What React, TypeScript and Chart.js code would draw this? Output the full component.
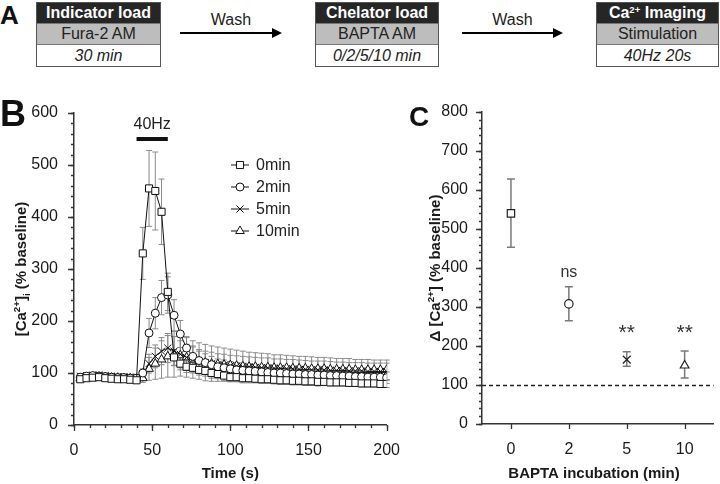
import React, { useEffect, useRef } from 'react';
import { Chart, registerables } from 'chart.js';

Chart.register(...registerables);

// ---------- DATA ----------
const timePoints = [4, 8, 12, 16, 20, 24, 28, 32, 36, 40, 44, 48, 52, 56, 60, 64, 68, 72, 76, 80, 84, 88, 92, 96, 100, 104, 108, 112, 116, 120, 124, 128, 132, 136, 140, 144, 148, 152, 156, 160, 164, 168, 172, 176, 180, 184, 188, 192, 196, 200];

const seriesNames = ['0min', '2min', '5min', '10min'];
const seriesStyles = ['rect', 'circle', 'crossRot', 'triangle'];

const vals0 = [88, 90, 91, 92, 90, 89, 88, 88, 87, 86, 330, 455, 450, 410, 256, 130, 118, 112, 110, 106, 104, 100, 98, 95, 92, 92, 90, 90, 89, 88, 88, 87, 86, 86, 85, 85, 84, 84, 83, 83, 82, 82, 82, 81, 81, 80, 80, 80, 79, 79];
const vals2 = [92, 94, 95, 94, 93, 92, 91, 91, 90, 90, 100, 177, 215, 245, 250, 211, 175, 148, 132, 124, 120, 116, 112, 110, 108, 106, 105, 104, 103, 102, 101, 100, 100, 99, 98, 98, 97, 97, 96, 96, 95, 95, 94, 94, 93, 93, 92, 92, 92, 91];
const vals5 = [94, 95, 96, 96, 95, 94, 93, 93, 92, 92, 96, 118, 132, 142, 148, 142, 136, 130, 126, 122, 120, 118, 116, 115, 114, 113, 112, 112, 111, 110, 110, 109, 109, 108, 108, 107, 107, 106, 106, 106, 105, 105, 105, 104, 104, 104, 103, 103, 103, 103];
const vals10 = [90, 92, 93, 93, 92, 91, 91, 90, 90, 89, 90, 108, 118, 126, 132, 136, 134, 130, 126, 123, 120, 118, 117, 116, 115, 114, 113, 112, 112, 111, 111, 110, 110, 110, 109, 109, 109, 108, 108, 108, 107, 107, 107, 107, 106, 106, 106, 106, 106, 106];

const err0 = [4, 4, 4, 4, 4, 4, 4, 4, 4, 4, 50, 73, 75, 63, 36, 15, 12, 11, 10, 10, 10, 10, 9, 9, 9, 9, 9, 9, 8, 8, 8, 8, 8, 8, 8, 8, 8, 8, 8, 7, 7, 7, 7, 7, 7, 7, 7, 7, 7, 7];
const err2 = [4, 4, 4, 4, 4, 4, 4, 4, 4, 4, 8, 28, 30, 33, 35, 30, 26, 22, 20, 18, 17, 16, 15, 15, 14, 14, 14, 13, 13, 13, 13, 12, 12, 12, 12, 12, 12, 12, 11, 11, 11, 11, 11, 11, 11, 11, 11, 11, 11, 11];
const err5 = [5, 5, 5, 5, 5, 5, 5, 5, 5, 5, 8, 18, 22, 26, 28, 28, 26, 25, 24, 23, 22, 22, 21, 21, 20, 20, 20, 19, 19, 19, 19, 18, 18, 18, 18, 18, 17, 17, 17, 17, 17, 16, 16, 16, 16, 16, 16, 16, 16, 16];
const err10 = [5, 5, 5, 5, 5, 5, 5, 5, 5, 5, 8, 22, 30, 36, 40, 44, 40, 38, 36, 35, 35, 34, 33, 32, 31, 30, 29, 28, 27, 27, 26, 25, 25, 24, 24, 23, 23, 23, 22, 22, 22, 21, 21, 21, 20, 20, 20, 19, 19, 19];

const stimStart = 40;
const stimEnd = 60;
const stimLevel = 550;
const stimLabel = '40Hz';

const bapCategories = ['0', '2', '5', '10'];
const bapMeans = [540, 308, 165, 150];
const bapUpper = [628, 352, 185, 187];
const bapLower = [453, 265, 148, 118];
const sigLabels = ['', 'ns', '**', '**'];
const sigLevels = [0, 377, 218, 218];
const baselineLevel = 100;

// ---------- HELPERS ----------
const FONT = '"Liberation Sans", Arial, Helvetica, sans-serif';
const seriesVals = [vals0, vals2, vals5, vals10];
const seriesErr = [err0, err2, err5, err10];
const markerRadiusB = [5, 4, 5, 5];
const markerRadiusC = [5.2, 4.2, 5.5, 5];

type Seg = { t: string; k?: 'sup' | 'sub' };

function drawRich(ctx: CanvasRenderingContext2D, segs: Seg[], cx: number, cy: number, size: number, rotate: boolean) {
  ctx.save();
  ctx.translate(cx, cy);
  if (rotate) ctx.rotate(-Math.PI / 2);
  const f = (s: number) => `bold ${s}px ${FONT}`;
  let total = 0;
  const widths = segs.map((sg) => {
    ctx.font = f(sg.k ? size * 0.65 : size);
    const w = ctx.measureText(sg.t).width;
    total += w;
    return w;
  });
  let x = -total / 2;
  ctx.textAlign = 'left';
  ctx.textBaseline = 'alphabetic';
  ctx.fillStyle = '#1a1a1a';
  segs.forEach((sg, i) => {
    ctx.font = f(sg.k ? size * 0.65 : size);
    const dy = sg.k === 'sup' ? -size * 0.42 : sg.k === 'sub' ? size * 0.22 : 0;
    ctx.fillText(sg.t, x, size * 0.35 + dy);
    x += widths[i];
  });
  ctx.restore();
}

function drawMarker(ctx: CanvasRenderingContext2D, style: string, x: number, y: number, r: number) {
  ctx.beginPath();
  if (style === 'rect') {
    const s = r * Math.SQRT1_2;
    ctx.rect(x - s, y - s, 2 * s, 2 * s);
  } else if (style === 'circle') {
    ctx.arc(x, y, r, 0, Math.PI * 2);
  } else if (style === 'triangle') {
    for (let k = 0; k < 3; k++) {
      const a = (k * 2 * Math.PI) / 3;
      const px = x + Math.sin(a) * r;
      const py = y - Math.cos(a) * r;
      if (k === 0) ctx.moveTo(px, py);
      else ctx.lineTo(px, py);
    }
    ctx.closePath();
  } else {
    const s = r * Math.SQRT1_2;
    ctx.moveTo(x - s, y - s);
    ctx.lineTo(x + s, y + s);
    ctx.moveTo(x - s, y + s);
    ctx.lineTo(x + s, y - s);
  }
  if (style !== 'crossRot') {
    ctx.fillStyle = '#fff';
    ctx.fill();
  }
  ctx.stroke();
}

function drawTicks(ctx: CanvasRenderingContext2D, scale: any, values: number[], len: number, horizontal: boolean) {
  ctx.beginPath();
  values.forEach((v) => {
    const p = Math.round(scale.getPixelForValue(v)) + 0.5;
    if (horizontal) {
      ctx.moveTo(p, scale.top);
      ctx.lineTo(p, scale.top + len);
    } else {
      ctx.moveTo(scale.right, p);
      ctx.lineTo(scale.right - len, p);
    }
  });
  ctx.stroke();
}

function range(a: number, b: number, step: number) {
  const out: number[] = [];
  for (let v = a; v <= b + 1e-9; v += step) out.push(v);
  return out;
}

// ---------- PLUGINS ----------
const panelBPlugin = {
  id: 'panelB',
  beforeDatasetsDraw(chart: any) {
    const { ctx, scales } = chart;
    const x = scales.x;
    const y = scales.y;
    ctx.save();
    ctx.strokeStyle = '#8a8a8a';
    ctx.lineWidth = 1;
    for (let s = seriesVals.length - 1; s >= 0; s--) {
      const v = seriesVals[s];
      const e = seriesErr[s];
      ctx.beginPath();
      v.forEach((val, i) => {
        const px = x.getPixelForValue(timePoints[i]);
        const hi = y.getPixelForValue(val + e[i]);
        const lo = y.getPixelForValue(val - e[i]);
        ctx.moveTo(px, hi);
        ctx.lineTo(px, lo);
        ctx.moveTo(px - 3, hi);
        ctx.lineTo(px + 3, hi);
        ctx.moveTo(px - 3, lo);
        ctx.lineTo(px + 3, lo);
      });
      ctx.stroke();
    }
    ctx.restore();
  },
  afterDraw(chart: any) {
    const { ctx, scales, chartArea } = chart;
    const x = scales.x;
    const y = scales.y;
    ctx.save();
    ctx.strokeStyle = '#333';
    ctx.lineWidth = 1.3;
    drawTicks(ctx, x, range(0, 200, 50), 6, true);
    drawTicks(ctx, x, range(0, 200, 10), 3, true);
    drawTicks(ctx, y, range(0, 600, 100), 6, false);
    drawTicks(ctx, y, range(0, 600, 20), 3, false);

    // stimulation bar
    const sy = y.getPixelForValue(stimLevel);
    ctx.fillStyle = '#111';
    ctx.fillRect(x.getPixelForValue(stimStart), sy - 2, x.getPixelForValue(stimEnd) - x.getPixelForValue(stimStart), 4);
    ctx.font = `16px ${FONT}`;
    ctx.textAlign = 'center';
    ctx.textBaseline = 'middle';
    ctx.fillStyle = '#222';
    ctx.fillText(stimLabel, x.getPixelForValue((stimStart + stimEnd) / 2), sy - 14);

    // legend
    seriesNames.forEach((name, i) => {
      const ly = 75 + i * 22;
      ctx.strokeStyle = '#111';
      ctx.lineWidth = 1;
      ctx.beginPath();
      ctx.moveTo(231, ly);
      ctx.lineTo(249, ly);
      ctx.stroke();
      drawMarker(ctx, seriesStyles[i], 240, ly, markerRadiusB[i]);
      ctx.fillStyle = '#222';
      ctx.font = `16px ${FONT}`;
      ctx.textAlign = 'left';
      ctx.textBaseline = 'middle';
      ctx.fillText(name, 256, ly + 1);
    });

    // axis titles
    drawRich(ctx, [{ t: '[Ca' }, { t: '2+', k: 'sup' }, { t: ']' }, { t: 'i', k: 'sub' }, { t: ' (% baseline)' }], 21, (chartArea.top + chartArea.bottom) / 2, 15, true);
    drawRich(ctx, [{ t: 'Time (s)' }], (chartArea.left + chartArea.right) / 2, 383, 15, false);
    ctx.restore();
  },
};

const panelCPlugin = {
  id: 'panelC',
  beforeDatasetsDraw(chart: any) {
    const { ctx, scales, chartArea } = chart;
    const x = scales.x;
    const y = scales.y;
    ctx.save();
    // dashed baseline
    const by = Math.round(y.getPixelForValue(baselineLevel)) + 0.5;
    ctx.strokeStyle = '#222';
    ctx.lineWidth = 1.3;
    ctx.setLineDash([4, 3]);
    ctx.beginPath();
    ctx.moveTo(chartArea.left, by);
    ctx.lineTo(chartArea.right, by);
    ctx.stroke();
    ctx.setLineDash([]);
    // error bars
    ctx.strokeStyle = '#7a7a7a';
    ctx.lineWidth = 1.5;
    ctx.beginPath();
    bapMeans.forEach((_, i) => {
      const px = x.getPixelForValue(i);
      const hi = y.getPixelForValue(bapUpper[i]);
      const lo = y.getPixelForValue(bapLower[i]);
      ctx.moveTo(px, hi);
      ctx.lineTo(px, lo);
      ctx.moveTo(px - 4, hi);
      ctx.lineTo(px + 4, hi);
      ctx.moveTo(px - 4, lo);
      ctx.lineTo(px + 4, lo);
    });
    ctx.stroke();
    ctx.restore();
  },
  afterDraw(chart: any) {
    const { ctx, scales, chartArea } = chart;
    const x = scales.x;
    const y = scales.y;
    ctx.save();
    ctx.strokeStyle = '#333';
    ctx.lineWidth = 1.3;
    drawTicks(ctx, y, range(0, 800, 100), 6, false);
    drawTicks(ctx, y, range(0, 800, 20), 3, false);
    drawTicks(ctx, x, bapCategories.map((_, i) => i), 5, true);

    ctx.fillStyle = '#333';
    ctx.textAlign = 'center';
    ctx.textBaseline = 'alphabetic';
    sigLabels.forEach((lab, i) => {
      if (!lab) return;
      ctx.font = lab === 'ns' ? `16px ${FONT}` : `21px ${FONT}`;
      ctx.fillText(lab, x.getPixelForValue(i), y.getPixelForValue(sigLevels[i]));
    });

    drawRich(ctx, [{ t: '\u0394 [Ca' }, { t: '2+', k: 'sup' }, { t: '] (% baseline)' }], 35, (chartArea.top + chartArea.bottom) / 2, 15, true);
    drawRich(ctx, [{ t: 'BAPTA incubation (min)' }], 194, 383, 15, false);
    ctx.restore();
  },
};

// ---------- COMPONENTS ----------
function StepBox(props: { left: number; width: number; title: React.ReactNode; middle: string; bottom: string }) {
  const row: React.CSSProperties = { display: 'flex', alignItems: 'center', justifyContent: 'center', height: 20, fontSize: 16, whiteSpace: 'nowrap' };
  return (
    <div style={{ position: 'absolute', left: props.left, top: 2, width: props.width, border: '1px solid #555', background: '#fff' }}>
      <div style={{ ...row, background: '#262626', color: '#fff', fontWeight: 'bold' }}>{props.title}</div>
      <div style={{ ...row, height: 20, background: '#bdbdbd', color: '#222', borderTop: '1px solid #777' }}>{props.middle}</div>
      <div style={{ ...row, height: 21, background: '#fff', color: '#222', fontStyle: 'italic', borderTop: '1px solid #777' }}>{props.bottom}</div>
    </div>
  );
}

function Arrow(props: { left: number; width: number }) {
  return (
    <>
      <div style={{ position: 'absolute', left: props.left + props.width / 2 - 40, width: 80, top: 10, lineHeight: '20px', fontSize: 16, textAlign: 'center', color: '#222' }}>Wash</div>
      <svg style={{ position: 'absolute', left: props.left, top: 26 }} width={props.width} height={14}>
        <line x1={0} y1={7} x2={props.width - 9} y2={7} stroke="#000" strokeWidth={2} />
        <polygon points={`${props.width - 10},2 ${props.width},7 ${props.width - 10},12`} fill="#000" />
      </svg>
    </>
  );
}

export default function App() {
  const bRef = useRef<HTMLCanvasElement>(null);
  const cRef = useRef<HTMLCanvasElement>(null);

  useEffect(() => {
    const tickFont = { size: 16, family: FONT };
    const chartB = new Chart(bRef.current!, {
      type: 'line',
      data: {
        datasets: seriesNames.map((name, s) => ({
          label: name,
          data: timePoints.map((t, i) => ({ x: t, y: seriesVals[s][i] })),
          borderColor: '#111',
          borderWidth: 1,
          pointStyle: seriesStyles[s] as any,
          pointRadius: markerRadiusB[s],
          pointBackgroundColor: '#fff',
          pointBorderColor: '#111',
          pointBorderWidth: 1,
          tension: 0,
          fill: false,
        })),
      },
      options: {
        responsive: false,
        animation: false,
        layout: { padding: { top: 23, right: 13, left: 0, bottom: 0 } },
        plugins: { legend: { display: false }, tooltip: { enabled: false } },
        scales: {
          x: {
            type: 'linear',
            min: 0,
            max: 200,
            afterFit: (s: any) => { s.height = 59; },
            ticks: { stepSize: 50, font: tickFont, color: '#1a1a1a', padding: 8, maxRotation: 0 },
            grid: { display: false },
            border: { color: '#333', width: 1.5 },
          },
          y: {
            min: 0,
            max: 600,
            afterFit: (s: any) => { s.width = 74; },
            ticks: { stepSize: 100, font: tickFont, color: '#1a1a1a', padding: 8 },
            grid: { display: false },
            border: { color: '#333', width: 1.5 },
          },
        },
      } as any,
      plugins: [panelBPlugin],
    });

    const chartC = new Chart(cRef.current!, {
      type: 'line',
      data: {
        labels: bapCategories,
        datasets: [
          {
            data: bapMeans,
            showLine: false,
            pointStyle: seriesStyles as any,
            pointRadius: markerRadiusC,
            pointBackgroundColor: '#fff',
            pointBorderColor: '#222',
            pointBorderWidth: 1.2,
          },
        ],
      },
      options: {
        responsive: false,
        animation: false,
        layout: { padding: { top: 22, right: 1, left: 0, bottom: 0 } },
        plugins: { legend: { display: false }, tooltip: { enabled: false } },
        scales: {
          x: {
            type: 'category',
            offset: true,
            afterFit: (s: any) => { s.height = 60; },
            ticks: { font: tickFont, color: '#1a1a1a', padding: 8, maxRotation: 0 },
            grid: { display: false, offset: false },
            border: { color: '#333', width: 1.5 },
          },
          y: {
            min: 0,
            max: 800,
            afterFit: (s: any) => { s.width = 82; },
            ticks: { stepSize: 100, font: tickFont, color: '#1a1a1a', padding: 6 },
            grid: { display: false },
            border: { color: '#333', width: 1.5 },
          },
        },
      } as any,
      plugins: [panelCPlugin],
    });

    return () => {
      chartB.destroy();
      chartC.destroy();
    };
  }, []);

  const letter: React.CSSProperties = { position: 'absolute', fontWeight: 'bold', lineHeight: 1, color: '#111' };

  return (
    <div style={{ position: 'absolute', left: 0, top: 0, width: 720, height: 484, background: '#fff', fontFamily: FONT, overflow: 'hidden' }}>
      <div style={{ ...letter, left: 0, top: 2, fontSize: 26 }}>A</div>
      <StepBox left={36} width={123} title="Indicator load" middle="Fura-2 AM" bottom="30 min" />
      <Arrow left={180} width={102} />
      <StepBox left={315} width={122} title="Chelator load" middle="BAPTA AM" bottom="0/2/5/10 min" />
      <Arrow left={462} width={101} />
      <StepBox
        left={596}
        width={121}
        title={<span>Ca<sup style={{ fontSize: '0.6em', lineHeight: 0, verticalAlign: '0.55em' }}>2+</sup> Imaging</span>}
        middle="Stimulation"
        bottom="40Hz 20s"
      />
      <canvas ref={bRef} width={408} height={394} style={{ position: 'absolute', left: 0, top: 90, width: 408, height: 394 }} />
      <canvas ref={cRef} width={320} height={394} style={{ position: 'absolute', left: 400, top: 90, width: 320, height: 394 }} />
      <div style={{ ...letter, left: 0, top: 96, fontSize: 36 }}>B</div>
      <div style={{ ...letter, left: 409, top: 103, fontSize: 28 }}>C</div>
    </div>
  );
}
